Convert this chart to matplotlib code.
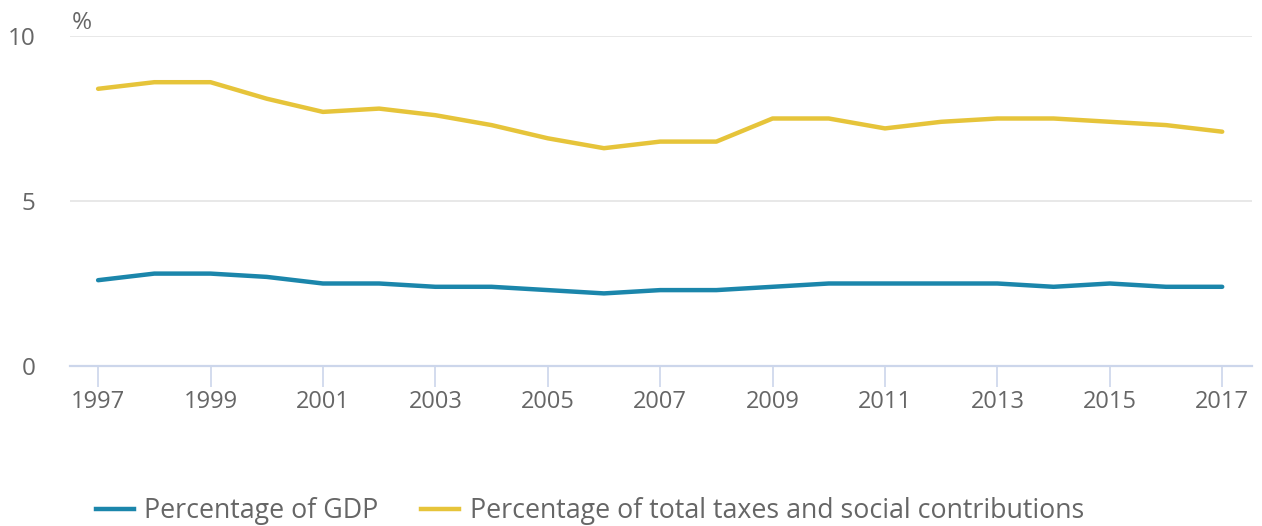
import matplotlib
matplotlib.use("Agg")
import matplotlib.pyplot as plt
from matplotlib.lines import Line2D

plt.rcParams['font.family'] = ['Open Sans', 'DejaVu Sans']

# data
years = list(range(1997, 2018))
pct_gdp = [2.6, 2.8, 2.8, 2.7, 2.5, 2.5, 2.4, 2.4, 2.3, 2.2, 2.3,
           2.3, 2.4, 2.5, 2.5, 2.5, 2.5, 2.4, 2.5, 2.4, 2.4]
pct_taxes = [8.4, 8.6, 8.6, 8.1, 7.7, 7.8, 7.6, 7.3, 6.9, 6.6, 6.8,
             6.8, 7.5, 7.5, 7.2, 7.4, 7.5, 7.5, 7.4, 7.3, 7.1]
labels = ['Percentage of GDP', 'Percentage of total taxes and social contributions']
colors = ['#1b86ab', '#e6c43a']
yticks = [0, 5, 10]
xticks = list(range(1997, 2018, 2))

text_col = '#666666'

fig = plt.figure(figsize=(12.62, 5.26), dpi=100)
ax = fig.add_axes([70 / 1262, 1 - 366 / 526, 1182 / 1262, 330 / 526])

ax.plot(years, pct_gdp, color=colors[0], lw=3.2, solid_capstyle='round', solid_joinstyle='round', zorder=3)
ax.plot(years, pct_taxes, color=colors[1], lw=3.2, solid_capstyle='round', solid_joinstyle='round', zorder=3)

ax.set_xlim(1996.5, 2017.53)
ax.set_ylim(0, 10)
ax.set_yticks(yticks)
ax.set_xticks(xticks)
ax.set_xticklabels([str(y) for y in xticks])

ax.grid(axis='y', color='#e6e6e6', lw=1.3)
ax.set_axisbelow(True)
for s in ['top', 'right', 'left']:
    ax.spines[s].set_visible(False)
ax.spines['bottom'].set_color('#ccd6eb')
ax.spines['bottom'].set_linewidth(1.6)
ax.spines['bottom'].set_zorder(2)

ax.tick_params(axis='x', colors='#ccd6eb', length=15, width=1.2, labelcolor=text_col,
               labelsize=17, pad=2)
ax.tick_params(axis='y', length=0, labelcolor=text_col, labelsize=17.5, pad=25)

ax.text(2 / 1182, 1 + 7 / 330, '%', transform=ax.transAxes, fontsize=17.5, color=text_col,
        va='baseline', ha='left')

handles = [Line2D([], [], color=c, lw=3.2) for c in colors]
fig.legend(handles, labels, loc='center', bbox_to_anchor=(590 / 1262, 1 - 511 / 526),
           ncol=2, frameon=False, fontsize=19.3, labelcolor=text_col, handlelength=1.4,
           handletextpad=0.4, columnspacing=1.6)

fig.savefig('out.png', dpi=100)
